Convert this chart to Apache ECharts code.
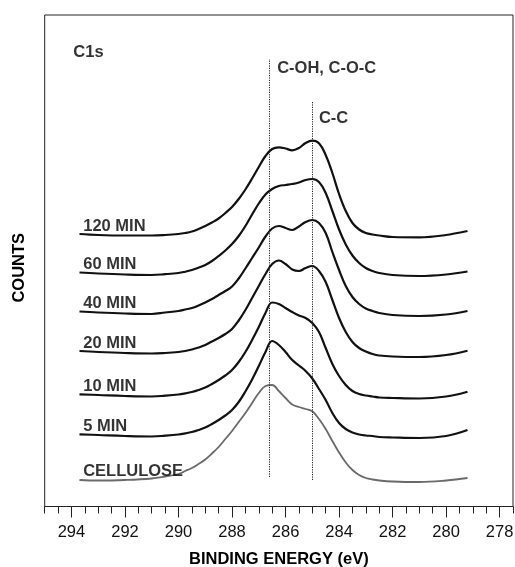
<!DOCTYPE html>
<html>
<head>
<meta charset="utf-8">
<script src="https://cdn.jsdelivr.net/npm/echarts@6/dist/echarts.min.js"></script>
<style>
html,body{margin:0;padding:0;background:#fff;}
#chart{width:515px;height:567px;}
</style>
</head>
<body>
<div id="chart"></div>
<script>
// Binding energy sample points (eV)
const energy = [293.7, 293, 292, 291, 290.5, 290, 289.75, 289.5, 289.25, 289, 288.75, 288.5, 288.25, 288, 287.75, 287.5, 287.25, 287, 286.75, 286.5, 286.25, 286, 285.75, 285.5, 285.25, 285, 284.75, 284.5, 284.25, 284, 283.75, 283.5, 283.25, 283, 282.75, 282.5, 282, 281, 280, 279.2];

// Curve names (top to bottom)
const curveNames = ['120 MIN', '60 MIN', '40 MIN', '20 MIN', '10 MIN', '5 MIN', 'CELLULOSE'];

// Intensity above each curve's own baseline (arbitrary counts)
const min120 = [2, 1, 0.5, 0.5, 1, 2, 3, 4.5, 7, 10, 13.5, 17.5, 23, 29, 37, 46.5, 57.5, 69, 80, 87, 88.7, 87.5, 85.7, 88, 93, 95.3, 92.7, 81, 63, 42, 25, 13, 6.5, 3, 1.5, 0.5, -1, -1.3, 1, 5];
const min60 = [2, 1, 0, -0.5, 0.3, 1.5, 2.8, 4.5, 6.8, 9.5, 13.5, 18.5, 24, 30.5, 38.5, 48.5, 60, 71, 80, 85.5, 88.5, 89.5, 90.5, 92, 94.5, 95.5, 92.5, 81.5, 63.5, 45, 30, 19, 11.5, 6.5, 3.5, 1.5, -0.5, -1.5, 0, 3];
const min40 = [2, 1, 0, -0.5, 1, 2.5, 4, 5.5, 8, 11, 14.5, 18.5, 22.5, 27, 35, 45, 55.5, 66, 77, 85, 87.5, 85.5, 83.5, 87, 91.5, 93.5, 90.5, 80.5, 61.5, 43.5, 27.5, 16.5, 9.5, 5, 2.5, 0.5, -1.5, -2.5, -1, 2.5];
const min20 = [2, 1, 0, -0.5, 0, 1, 2, 3.5, 5.5, 8, 11.5, 15, 19, 24, 32.5, 43, 55, 67, 79, 89, 92.5, 89, 83.5, 82, 85, 87, 82, 71, 53, 35, 21, 11, 5, 1.5, -1, -2.5, -3.5, -4, -2, 2.3];
const min10 = [1.7, 1, 0, -0.5, 0.3, 1.5, 2.6, 4, 6, 8.5, 12, 16, 20.5, 26, 34, 44, 56, 69, 83, 93.5, 92, 88, 84, 80.5, 78, 73, 64, 48, 32, 20, 11, 5, 2, 0.5, -0.5, -1.5, -2, -2.5, -0.5, 4.3];
const min5 = [1.7, 1, 0, -0.5, 0.3, 1.5, 2.6, 4, 6, 8.5, 12, 16, 20.5, 26, 34, 44.5, 56.5, 70, 84, 95, 91, 84, 76, 70.5, 65, 57.5, 47, 36, 23, 13, 7, 3.5, 1.5, 0.5, 0, -1, -1.5, -2, 0, 6];
const cellulose = [1, 0.5, 1, 2.5, 4.5, 7, 10, 13, 17, 21.5, 27.5, 34, 42, 50, 59, 68, 78, 88, 95, 96, 90, 83, 76.5, 74, 72, 69.7, 62, 52, 40, 28.5, 18.5, 11, 6, 3, 1.5, 0.5, -0.5, -1, 0.5, 3];

// Vertical stacking offset of each curve (counts)
const offsets = [270.5, 232, 193, 153.5, 110.5, 70.5, 25.5];

// Tick values
const majorTicks = [278, 280, 282, 284, 286, 288, 290, 292, 294];
const minorTicks = [277.5, 278.5, 279, 279.5, 280.5, 281, 281.5, 282.5, 283, 283.5, 284.5, 285, 285.5, 286.5, 287, 287.5, 288.5, 289, 289.5, 290.5, 291, 291.5, 292.5, 293, 293.5, 294.5, 295];

// Reference lines: [energy, yFrom, yTo]
const refLines = [[286.6, 29.5, 447.5], [285.0, 26.5, 404.5]];

// Text annotations: [energy, y, text]
const annotations = [[293.95, 454.5, 'C1s'], [286.33, 438.5, 'C-OH, C-O-C'], [284.77, 388.5, 'C-C']];
const curveLabelE = 293.58;
const curveLabelDy = 10;

const curves = [min120, min60, min40, min20, min10, min5, cellulose];
const colors = ['#111111', '#111111', '#111111', '#111111', '#111111', '#111111', '#6a6a6a'];

const series = curves.map((vals, k) => ({
  type: 'line',
  name: curveNames[k],
  data: energy.map((e, i) => [e, offsets[k] + vals[i]]),
  smooth: 0.4,
  symbol: 'none',
  xAxisIndex: 0,
  lineStyle: { color: colors[k], width: k === 6 ? 1.8 : 2.2 },
  silent: true,
  z: 3
}));

series.push({
  type: 'line',
  data: [],
  xAxisIndex: 0,
  symbol: 'none',
  markLine: {
    silent: true,
    symbol: ['none', 'none'],
    label: { show: false },
    lineStyle: { color: '#222', type: [1.2, 1.2], width: 1 },
    data: refLines.map(r => [{ coord: [r[0], r[1]] }, { coord: [r[0], r[2]] }])
  }
});

const textStyle = { fontFamily: 'Liberation Sans, Arial, sans-serif', fontWeight: 'bold', fontSize: 16.5, color: '#000' };

series.push({
  type: 'scatter',
  xAxisIndex: 0,
  symbolSize: 1,
  itemStyle: { color: 'rgba(0,0,0,0)' },
  data: curveNames.map((n, k) => [curveLabelE, offsets[k] + curveLabelDy, n])
    .concat(annotations.map(a => [a[0], a[1], a[2]])),
  label: Object.assign({
    show: true, position: 'right', distance: 0,
    formatter: p => p.value[2]
  }, textStyle),
  silent: true,
  z: 5
});

const chart = echarts.init(document.getElementById('chart'), null, { renderer: 'canvas' });
chart.setOption({
  animation: false,
  backgroundColor: '#fff',
  grid: { left: 44.7, right: 2, top: 15, bottom: 60.5, show: true, borderColor: '#222', borderWidth: 1, containLabel: false, outerBoundsMode: 'none' },
  xAxis: [{
    type: 'value', inverse: true, min: 277.5, max: 295, position: 'bottom',
    axisLine: { show: true, lineStyle: { color: '#222', width: 1 } },
    axisTick: { show: true, customValues: majorTicks, length: 11, lineStyle: { color: '#222', width: 1 } },
    axisLabel: { customValues: majorTicks, fontSize: 16.5, color: '#111', margin: 17, fontFamily: 'Liberation Sans, Arial, sans-serif' },
    splitLine: { show: false },
    name: 'BINDING ENERGY (eV)', nameLocation: 'middle', nameGap: 44,
    nameTextStyle: textStyle
  }, {
    type: 'value', inverse: true, min: 277.5, max: 295, position: 'bottom', gridIndex: 0,
    axisLine: { show: false },
    axisTick: { show: true, customValues: minorTicks, length: 7, lineStyle: { color: '#222', width: 1 } },
    axisLabel: { show: false },
    splitLine: { show: false }
  }],
  yAxis: {
    type: 'value', min: 0, max: 491.5,
    axisLine: { show: false }, axisTick: { show: false }, axisLabel: { show: false },
    splitLine: { show: false },
    name: 'COUNTS', nameLocation: 'middle', nameGap: 17, nameRotate: 90,
    nameTextStyle: Object.assign({ padding: [0, 14, 0, 0] }, textStyle)
  },
  series: series
});
</script>
</body>
</html>
